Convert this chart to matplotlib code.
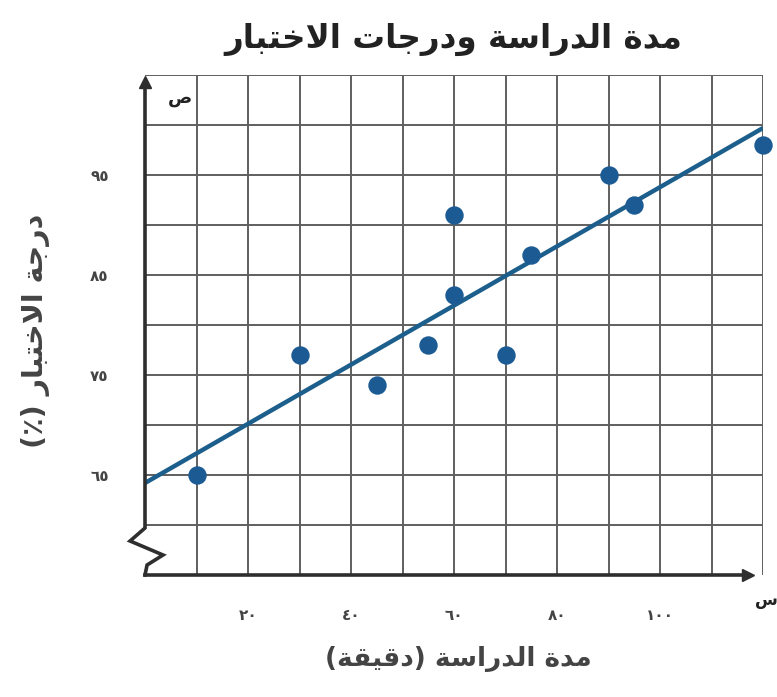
#!/usr/bin/env python
import matplotlib
matplotlib.use('Agg')
import matplotlib.pyplot as plt
import numpy as np

# dane z wykresu
study_minutes = [10, 30, 45, 55, 60, 60, 70, 75, 90, 95, 120]
test_scores = [65, 77, 74, 78, 83, 91, 77, 87, 95, 92, 98]
trend_x = [0, 120]
trend_y = [64.2, 99.7]

x_ticks = [20, 40, 60, 80, 100]
x_tick_labels = ['٢٠', '٤٠', '٦٠', '٨٠', '١٠٠']
y_ticks = [65, 75, 85, 95]
y_tick_labels = ['٦٥', '٧٥', '٨٥', '٩٥']

title = 'مدة الدراسة ودرجات الاختبار'
x_label = 'مدة الدراسة (دقيقة)'
y_label = 'درجة الاختبار (٪)'

# prosty "reshaper" dla arabskiego (matplotlib nie laczy liter)
FORMS = {
    'ا': (0xFE8D, 0xFE8E, None, None),
    'ب': (0xFE8F, 0xFE90, 0xFE91, 0xFE92),
    'ة': (0xFE93, 0xFE94, None, None),
    'ت': (0xFE95, 0xFE96, 0xFE97, 0xFE98),
    'ج': (0xFE9D, 0xFE9E, 0xFE9F, 0xFEA0),
    'خ': (0xFEA5, 0xFEA6, 0xFEA7, 0xFEA8),
    'د': (0xFEA9, 0xFEAA, None, None),
    'ر': (0xFEAD, 0xFEAE, None, None),
    'س': (0xFEB1, 0xFEB2, 0xFEB3, 0xFEB4),
    'ص': (0xFEB9, 0xFEBA, 0xFEBB, 0xFEBC),
    'ق': (0xFED5, 0xFED6, 0xFED7, 0xFED8),
    'ل': (0xFEDD, 0xFEDE, 0xFEDF, 0xFEE0),
    'م': (0xFEE1, 0xFEE2, 0xFEE3, 0xFEE4),
    'و': (0xFEED, 0xFEEE, None, None),
    'ي': (0xFEF1, 0xFEF2, 0xFEF3, 0xFEF4),
}
LAM_ALEF = (0xFEFB, 0xFEFC)


def shape(text):
    chars = []
    i = 0
    while i < len(text):
        if text[i] == 'ل' and i + 1 < len(text) and text[i + 1] == 'ا':
            chars.append('LA')
            i += 2
        else:
            chars.append(text[i])
            i += 1

    def joins_next(c):
        return c in FORMS and FORMS[c][2] is not None

    def joinable(c):
        return c in FORMS or c == 'LA'

    out = []
    for k, c in enumerate(chars):
        prev = chars[k - 1] if k > 0 else None
        nxt = chars[k + 1] if k + 1 < len(chars) else None
        a = prev is not None and joins_next(prev)
        if c == 'LA':
            out.append(chr(LAM_ALEF[1 if a else 0]))
            continue
        if c not in FORMS:
            out.append(c)
            continue
        b = joins_next(c) and nxt is not None and joinable(nxt)
        iso, fin, ini, med = FORMS[c]
        if a and b:
            g = med
        elif a:
            g = fin
        elif b:
            g = ini
        else:
            g = iso
        out.append(chr(g))
    mirror = {'(': ')', ')': '('}
    return ''.join(mirror.get(ch, ch) for ch in reversed(out))


plt.rcParams['font.family'] = ['DejaVu Sans']

fig = plt.figure(figsize=(7.77, 6.97), dpi=100)
W, H = 777.0, 697.0
ax = fig.add_axes([145 / W, 1 - 575 / H, 618 / W, 500 / H])
ax.set_xlim(0, 120)
ax.set_ylim(55, 105)

# siatka co 10 min i co 5 punktow
grid_col = '#5f5f5f'
for gx in np.arange(10, 121, 10):
    ax.axvline(gx, color=grid_col, lw=1.4, zorder=1)
for gy in np.arange(60, 106, 5):
    ax.axhline(gy, color=grid_col, lw=1.4, zorder=1)

ax.set_xticks(x_ticks)
ax.set_xticklabels(x_tick_labels)
ax.set_yticks(y_ticks)
ax.set_yticklabels(y_tick_labels)
ax.tick_params(which='both', length=0)
ax.tick_params(axis='x', pad=24, labelsize=11, labelcolor='#444444')
ax.tick_params(axis='y', pad=26, labelsize=11, labelcolor='#444444')
for lab in ax.get_xticklabels() + ax.get_yticklabels():
    lab.set_fontweight('bold')
for s in ax.spines.values():
    s.set_visible(False)

axis_col = '#2e2e2e'
# os y z przerwaniem
ax.plot([0, 0, -2.9, 3.5, 0.4, 0], [104.0, 59.7, 58.4, 57.0, 56.0, 55.0],
        color=axis_col, lw=2.6, clip_on=False, zorder=4, solid_joinstyle='miter')
ax.plot([0], [104.3], marker='^', color=axis_col, markersize=9, clip_on=False, zorder=4)
# os x
ax.plot([0, 116.5], [55, 55], color=axis_col, lw=2.6, clip_on=False, zorder=4)
ax.plot([117.0], [55], marker='>', color=axis_col, markersize=9, clip_on=False, zorder=4)

ax.text(6.8, 102.7, shape('ص'), fontsize=13, fontweight='bold', color='#222222',
        ha='center', va='center')
ax.text(120.6, 52.5, shape('س'), fontsize=12, fontweight='bold', color='#222222',
        ha='center', va='center', clip_on=False)

ax.plot(trend_x, trend_y, color='#1d5f8c', lw=3.2, zorder=3, solid_capstyle='butt')
ax.scatter(study_minutes, test_scores, s=150, color='#1b5a93', zorder=5, clip_on=False)

fig.text(453 / W, 1 - 39 / H, shape(title), fontsize=23.5, fontweight='bold',
         ha='center', va='center', color='#222222')
fig.text(458 / W, 1 - 659 / H, shape(x_label), fontsize=19, fontweight='bold',
         ha='center', va='center', color='#444444')
fig.text(36 / W, 1 - 331 / H, shape(y_label), fontsize=20.5, fontweight='bold',
         rotation=90, ha='center', va='center', color='#444444')

fig.savefig('out.png', dpi=100, facecolor='white')
